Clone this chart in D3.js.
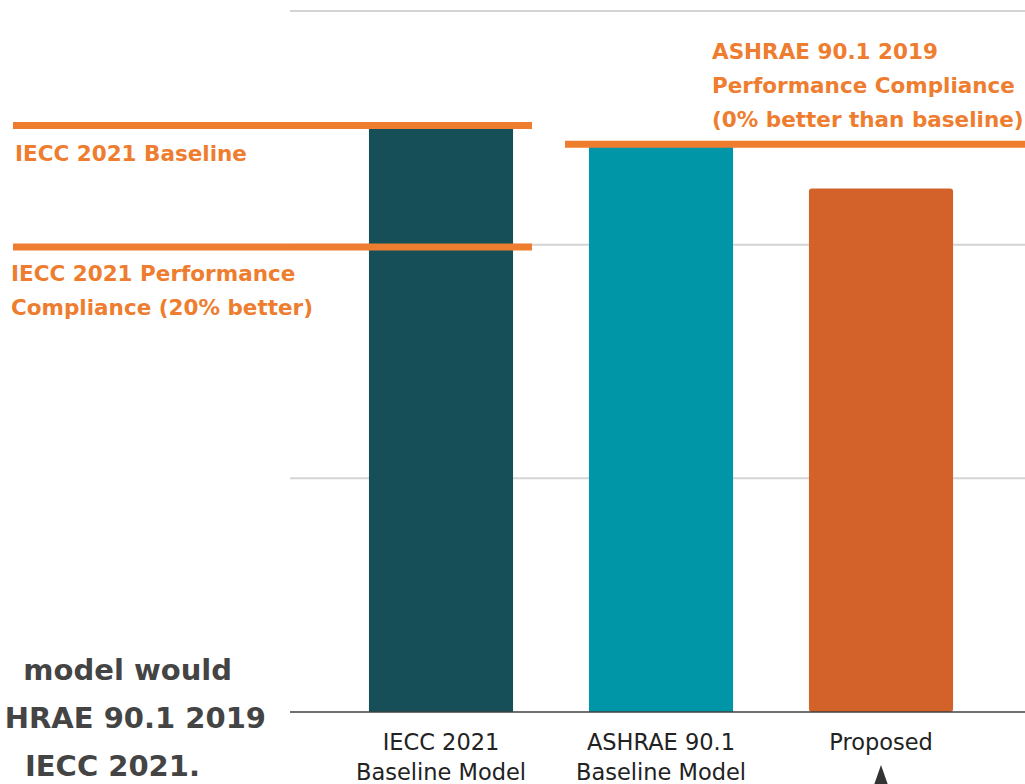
<!DOCTYPE html>
<html><head><meta charset="utf-8">
<script src="https://cdn.jsdelivr.net/npm/d3@7"></script>
<style>html,body{margin:0;padding:0;background:#fff;overflow:hidden}</style>
</head><body>
<svg id="c" width="1025" height="784"></svg>
<script>
// ---- data ----
const categories = [["IECC 2021","Baseline Model"],["ASHRAE 90.1","Baseline Model"],["Proposed"]];
const values = [2.50, 2.42, 2.24];
const barColors = ["#164F57","#0096A8","#D2622A"];
const gridValues = [0, 1, 2, 3];
const refLabels = [
  {value: 2.51, lines: ["IECC 2021 Baseline"]},
  {value: 1.99, lines: ["IECC 2021 Performance","Compliance (20% better)"]},
  {value: 2.43, lines: ["ASHRAE 90.1 2019","Performance Compliance","(0% better than baseline)"]}
];
const noteLines = ["model would","HRAE 90.1 2019","IECC 2021."];

const svg = d3.select("#c");
const x = d3.scaleBand().domain(d3.range(categories.length)).range([331, 991]).paddingInner(0.345).paddingOuter(0.1725);
const y = d3.scaleLinear().domain([0, 3]).range([712, 11]);

// gridlines
svg.append("g").selectAll("line").data(gridValues.slice(1)).join("line")
  .attr("x1", 290).attr("x2", 1025).attr("y1", d => y(d)).attr("y2", d => y(d))
  .attr("stroke", "#d4d4d4").attr("stroke-width", 2);

// bars
svg.append("g").selectAll("rect").data(values).join("rect")
  .attr("x", (d,i) => x(i)).attr("width", x.bandwidth())
  .attr("y", d => y(d)).attr("height", d => y(0) - y(d))
  .attr("fill", (d,i) => barColors[i])
  .attr("rx", (d,i) => i === 2 ? 3 : 0);

// axis
const axis = d3.axisBottom(x).tickSize(0).tickFormat("");
const gx = svg.append("g").attr("transform", `translate(0,${y(0)})`).call(axis);
gx.select(".domain").attr("d", "M290,0H1025").attr("stroke", "#404040").attr("stroke-width", 1.5);
gx.selectAll(".tick").each(function(d){
  const t = d3.select(this).append("text").attr("fill", "#222")
    .attr("font-family", "'DejaVu Sans', sans-serif").attr("font-size", 22.5)
    .attr("text-anchor", "middle");
  categories[d].forEach((s, k) => t.append("tspan").attr("x", 0).attr("y", 38 + k*30).text(s));
});
// arrow under "Proposed"
svg.append("path")
  .attr("d", `M${x(2)+x.bandwidth()/2},765 l-7,20 l14,0 Z`).attr("fill", "#333");

// reference lines (annotation)
const orange = "#EE7D30";
const refLines = [
  {i: 0, x1: 13, x2: 532},
  {i: 1, x1: 13, x2: 532},
  {i: 2, x1: 565, x2: 1025}
];
svg.append("g").selectAll("line").data(refLines).join("line")
  .attr("x1", d => d.x1).attr("x2", d => d.x2)
  .attr("y1", d => y(refLabels[d.i].value)).attr("y2", d => y(refLabels[d.i].value))
  .attr("stroke", orange).attr("stroke-width", 7);

const lbl = svg.append("g").attr("fill", orange).attr("font-family", "'DejaVu Sans', sans-serif")
  .attr("font-weight", "bold").attr("font-size", 21.5);
const addLabel = (lines, x0, yTop) => {
  const t = lbl.append("text");
  lines.forEach((s, k) => t.append("tspan").attr("x", x0).attr("y", yTop + k*34).text(s));
};
addLabel(refLabels[0].lines, 15, 161);
addLabel(refLabels[1].lines, 11, 281);
addLabel(refLabels[2].lines, 712, 59);

// left note (cropped text)
const note = svg.append("g").attr("fill", "#444").attr("font-family", "'DejaVu Sans', sans-serif")
  .attr("font-weight", "bold").attr("font-size", 29).attr("text-anchor", "end");
const noteRight = [232, 266, 200];
const noteY = [680, 728, 776];
noteLines.forEach((s, k) => note.append("text").attr("x", noteRight[k]).attr("y", noteY[k]).text(s));
</script>
</body></html>
